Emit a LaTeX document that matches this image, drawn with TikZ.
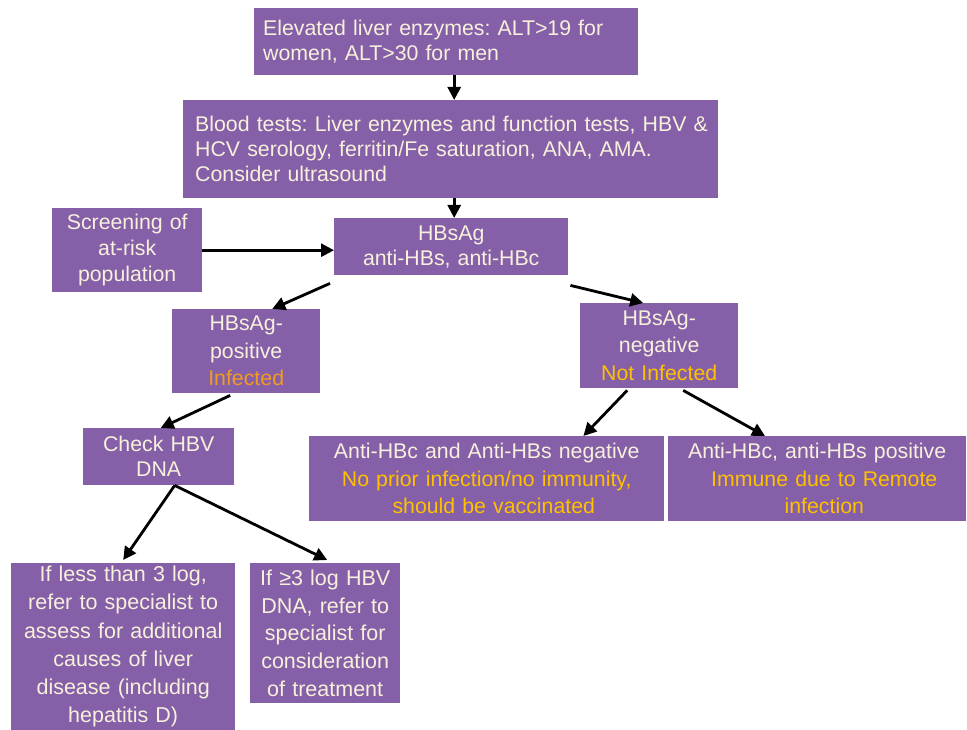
\documentclass[tikz,border=0pt]{standalone}
\usepackage{fontspec}
\setmainfont{Liberation Sans}
\usepackage{tikz}
\usetikzlibrary{arrows.meta}
\frenchspacing

\definecolor{hbpurple}{HTML}{8560A8}
\definecolor{hbtext}{HTML}{F6F0DC}
\definecolor{hborange}{HTML}{F39A21}
\definecolor{hbyellow}{HTML}{FFC000}

\begin{document}
\begin{tikzpicture}[x=1pt, y=-1pt,
        box/.style={fill=hbpurple, text=hbtext, inner xsep=0pt, inner ysep=0pt,
            anchor=north west, align=center, font=\fontsize{21.3}{25}\selectfont},
        arr/.style={-{Triangle[length=13pt,width=13pt]}, line width=2.8pt, black}]
    \useasboundingbox (0,0) rectangle (967,730);

    % top of the chart
    \node[box, align=left, inner xsep=9pt, text width=366pt, minimum height=67pt] (elev) at (254,8)
        {Elevated liver enzymes: ALT>19 for\\women, ALT>30 for men};
    \node[box, align=left, inner xsep=12pt, text width=511pt, minimum height=98pt] (blood) at (183,100)
        {\mbox{Blood tests: Liver enzymes and function tests, HBV \&}\\HCV serology, ferritin/Fe saturation, ANA, AMA.\\Consider ultrasound};
    \node[box, text width=150pt, minimum height=84pt, font=\fontsize{21.3}{26}\selectfont] (scr) at (52,208)
        {Screening of\\at-risk\\population};
    \node[box, text width=234pt, minimum height=57pt] (hbs) at (334,218)
        {HBsAg\\anti-HBs, anti-HBc};

    % serology result
    \node[box, text width=148pt, minimum height=84pt, font=\fontsize{21.3}{27.5}\selectfont] (pos) at (172,309)
        {HBsAg-\\positive\\\textcolor{hborange}{Infected}};
    \node[box, text width=158pt, minimum height=85pt, font=\fontsize{21.3}{27.5}\selectfont] (neg) at (580,303)
        {HBsAg-\\negative\\\textcolor{hbyellow}{Not Infected}};
    \node[box, text width=151pt, minimum height=57pt] (chk) at (83,428)
        {Check HBV\\DNA};
    \node[box, text width=355pt, minimum height=85pt, font=\fontsize{21.3}{27.5}\selectfont] (aneg) at (309,436)
        {Anti-HBc and Anti-HBs negative\\\textcolor{hbyellow}{No prior infection/no immunity,}\\\textcolor{hbyellow}{\ \ should be vaccinated}};
    \node[box, text width=298pt, minimum height=85pt, font=\fontsize{21.3}{27.5}\selectfont] (apos) at (668,436)
        {Anti-HBc, anti-HBs positive\\\textcolor{hbyellow}{\ \ Immune due to Remote}\\\textcolor{hbyellow}{\ \ infection}};

    % HBV DNA outcome
    \node[box, text width=224pt, minimum height=167pt, font=\fontsize{21.5}{28.2}\selectfont] (low) at (11,563)
        {If less than 3 log,\\refer to specialist to\\assess for additional\\causes of liver\\disease (including\\hepatitis D)};
    \node[box, text width=150pt, minimum height=140pt, font=\fontsize{21.5}{27.8}\selectfont] (high) at (250,563)
        {If ≥3 log HBV\\DNA, refer to\\specialist for\\consideration\\of treatment};

    % connectors
    \draw[arr] ([xshift=8pt]elev.south) -- ([xshift=8pt]elev.south |- blood.north);
    \draw[arr] ([xshift=3pt]hbs.north |- blood.south) -- ([xshift=3pt]hbs.north);
    \draw[arr] (scr.east) -- (scr.east -| hbs.west);
    \draw[arr] ([xshift=-4pt,yshift=-8pt]hbs.south west) -- ([xshift=26pt]pos.north);
    \draw[arr] ([xshift=2pt,yshift=-10pt]hbs.south east) -- ([xshift=-16pt]neg.north);
    \draw[arr] ([xshift=-16pt,yshift=-2pt]pos.south) -- ([xshift=2pt]chk.north);
    \draw[arr] ([xshift=-32pt,yshift=-2pt]neg.south) -- ([xshift=-81pt]aneg.north east);
    \draw[arr] ([xshift=24pt,yshift=-2pt]neg.south) -- ([xshift=97pt]apos.north west);
    \draw[arr] ([xshift=16pt]chk.south) -- ([yshift=3pt]low.north);
    \draw[arr] ([xshift=16pt]chk.south) -- ([xshift=2pt,yshift=3pt]high.north);
\end{tikzpicture}
\end{document}
